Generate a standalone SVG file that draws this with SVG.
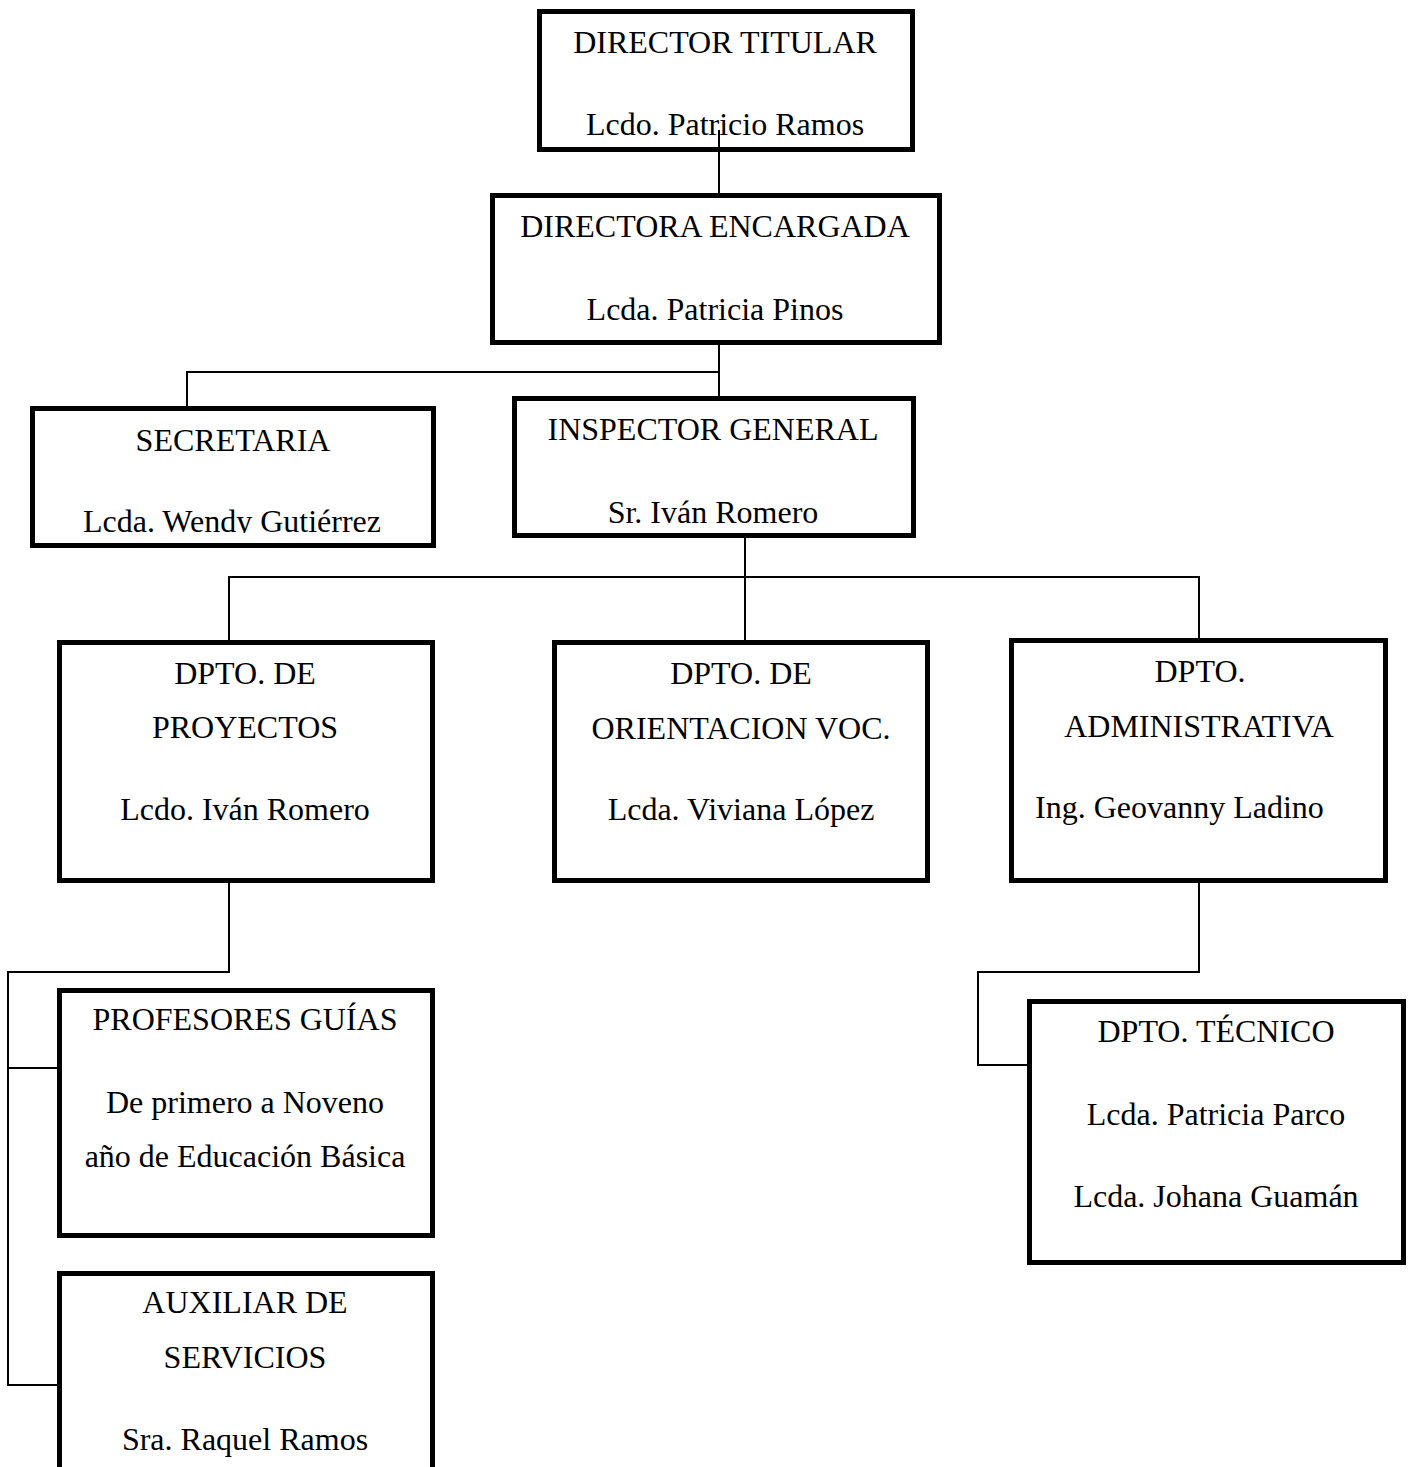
<svg xmlns="http://www.w3.org/2000/svg" width="1410" height="1467" viewBox="0 0 1410 1467">
<style>
.box{fill:#ffffff;stroke:#000000;stroke-width:5}
.t{font-family:"Liberation Serif","Times New Roman",serif;font-size:32px;fill:#000000;text-anchor:middle}
.ts{font-family:"Liberation Serif","Times New Roman",serif;font-size:32px;fill:#000000;text-anchor:start}
.c{fill:none;stroke:#000000;stroke-width:2}
</style>
<defs>
<clipPath id="secClip"><rect x="30" y="400" width="410" height="133"/></clipPath>
</defs>
<rect width="1410" height="1467" fill="#ffffff"/>
<g id="director-titular">
<rect class="box" x="539.5" y="11.5" width="373" height="138"/>
<text class="t" x="725" y="53">DIRECTOR TITULAR</text>
<text class="t" x="725" y="135">Lcdo. Patricio Ramos</text>
</g>
<g id="directora-encargada">
<rect class="box" x="492.5" y="195.5" width="447" height="147"/>
<text class="t" x="715" y="237">DIRECTORA ENCARGADA</text>
<text class="t" x="715" y="320">Lcda. Patricia Pinos</text>
</g>
<g id="secretaria">
<rect class="box" x="32.5" y="408.5" width="401" height="137"/>
<text class="t" x="233" y="451">SECRETARIA</text>
<text class="t" x="232" y="532" clip-path="url(#secClip)">Lcda. Wendy Gutiérrez</text>
</g>
<g id="inspector-general">
<rect class="box" x="514.5" y="398.5" width="399" height="137"/>
<text class="t" x="713" y="440">INSPECTOR GENERAL</text>
<text class="t" x="713" y="523">Sr. Iván Romero</text>
</g>
<g id="dpto-proyectos">
<rect class="box" x="59.5" y="642.5" width="373" height="238"/>
<text class="t" x="245" y="684">DPTO. DE</text>
<text class="t" x="245" y="738">PROYECTOS</text>
<text class="t" x="245" y="820">Lcdo. Iván Romero</text>
</g>
<g id="dpto-orientacion">
<rect class="box" x="554.5" y="642.5" width="373" height="238"/>
<text class="t" x="741" y="684">DPTO. DE</text>
<text class="t" x="741" y="739">ORIENTACION VOC.</text>
<text class="t" x="741" y="820">Lcda. Viviana López</text>
</g>
<g id="dpto-administrativa">
<rect class="box" x="1011.5" y="640.5" width="374" height="240"/>
<text class="t" x="1200" y="682">DPTO.</text>
<text class="t" x="1199" y="737">ADMINISTRATIVA</text>
<text class="ts" x="1035" y="818">Ing. Geovanny Ladino</text>
</g>
<g id="profesores-guias">
<rect class="box" x="59.5" y="990.5" width="373" height="245"/>
<text class="t" x="245" y="1030">PROFESORES GUÍAS</text>
<text class="t" x="245" y="1113">De primero a Noveno</text>
<text class="t" x="245" y="1167">año de Educación Básica</text>
</g>
<g id="auxiliar-servicios">
<rect class="box" x="59.5" y="1273.5" width="373" height="250"/>
<text class="t" x="245" y="1313">AUXILIAR DE</text>
<text class="t" x="245" y="1368">SERVICIOS</text>
<text class="t" x="245" y="1450">Sra. Raquel Ramos</text>
</g>
<g id="dpto-tecnico">
<rect class="box" x="1029.5" y="1001.5" width="374" height="261"/>
<text class="t" x="1216" y="1042">DPTO. TÉCNICO</text>
<text class="t" x="1216" y="1125">Lcda. Patricia Parco</text>
<text class="t" x="1216" y="1207">Lcda. Johana Guamán</text>
</g>
<g id="connectors">
<path class="c" d="M719 130 V195"/>
<path class="c" d="M719 345 V398"/>
<path class="c" d="M187 408 V372 H719"/>
<path class="c" d="M745 538 V640"/>
<path class="c" d="M229 642 V577 H1199 V640"/>
<path class="c" d="M229 883 V972 H8 V1385 H59"/>
<path class="c" d="M8 1068 H59"/>
<path class="c" d="M1199 883 V972 H978 V1065 H1029"/>
</g>
</svg>
